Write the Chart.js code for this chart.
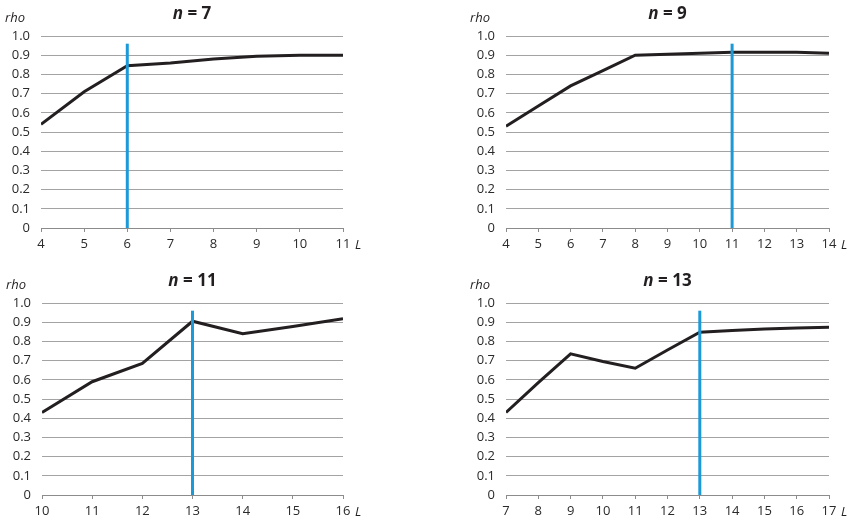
<!DOCTYPE html>
<html>
<head>
<meta charset="utf-8">
<script src="https://cdn.jsdelivr.net/npm/chart.js@4.4.0/dist/chart.umd.min.js"></script>
<style>
  body { margin: 0; background: #fff; }
  #lienzo { position: relative; width: 853px; height: 524px; }
  #lienzo canvas { position: absolute; }
</style>
</head>
<body>
<div id="lienzo">
  <canvas id="g7" style="left:0;top:0"></canvas>
  <canvas id="g9" style="left:426px;top:0"></canvas>
  <canvas id="g11" style="left:0;top:260px"></canvas>
  <canvas id="g13" style="left:426px;top:260px"></canvas>
</div>
<script>
// datos (rho segun L, para cada n)
const ejeL7 = [4, 5, 6, 7, 8, 9, 10, 11];
const rho7 = [0.54, 0.71, 0.845, 0.86, 0.88, 0.895, 0.90, 0.90];
const corte7 = 6;

const ejeL9 = [4, 5, 6, 7, 8, 9, 10, 11, 12, 13, 14];
const rho9 = [0.53, 0.635, 0.74, 0.82, 0.90, 0.905, 0.91, 0.915, 0.915, 0.915, 0.91];
const corte9 = 11;

const ejeL11 = [10, 11, 12, 13, 14, 15, 16];
const rho11 = [0.43, 0.59, 0.685, 0.905, 0.84, 0.878, 0.918];
const corte11 = 13;

const ejeL13 = [7, 8, 9, 10, 11, 12, 13, 14, 15, 16, 17];
const rho13 = [0.43, 0.585, 0.735, 0.695, 0.66, 0.755, 0.848, 0.857, 0.865, 0.87, 0.874];
const corte13 = 13;

const ticksRho = [0, 0.1, 0.2, 0.3, 0.4, 0.5, 0.6, 0.7, 0.8, 0.9, 1.0];
const topeCorte = 0.96;

const FUENTE = '"Open Sans", "Noto Sans", sans-serif';

// textos: titulo, rho y L
const textos = {
  id: 'textos',
  afterDraw(chart, args, opts) {
    const ctx = chart.ctx;
    const a = chart.chartArea;
    ctx.save();
    ctx.fillStyle = '#231f20';
    ctx.textBaseline = 'middle';

    // titulo "n = 7"
    const parte1 = 'n', parte2 = ' = ' + opts.n;
    ctx.font = 'italic bold 17px ' + FUENTE;
    const w1 = ctx.measureText(parte1).width;
    ctx.font = 'bold 17px ' + FUENTE;
    const w2 = ctx.measureText(parte2).width;
    let x = (a.left + a.right) / 2 - (w1 + w2) / 2;
    const y = a.top - 22;
    ctx.textAlign = 'left';
    ctx.font = 'italic bold 17px ' + FUENTE;
    ctx.fillText(parte1, x, y);
    ctx.font = 'bold 17px ' + FUENTE;
    ctx.fillText(parte2, x + w1, y);

    ctx.font = 'italic 13px ' + FUENTE;
    ctx.fillText('rho', a.left - 36, a.top - 18);
    ctx.fillText('L', a.right + 12, a.bottom + 17);
    ctx.restore();
  }
};

function crearGrafico(id, n, ejeL, rho, corte, pad, altoX) {
  const puntos = ejeL.map(function(l, i) { return { x: l, y: rho[i] }; });
  new Chart(document.getElementById(id), {
    type: 'line',
    data: {
      datasets: [{
        data: [{ x: corte, y: 0 }, { x: corte, y: topeCorte }],
        borderColor: '#1b9ad7',
        borderWidth: 3,
        pointRadius: 0
      }, {
        data: puntos,
        borderColor: '#231f20',
        borderWidth: 3,
        pointRadius: 0,
        tension: 0
      }]
    },
    options: {
      responsive: false,
      animation: false,
      layout: { padding: pad },
      plugins: {
        legend: { display: false },
        tooltip: { enabled: false },
        textos: { n: n }
      },
      scales: {
        x: {
          type: 'linear',
          min: ejeL[0],
          max: ejeL[ejeL.length - 1],
          afterBuildTicks: function(s) { s.ticks = ejeL.map(function(v) { return { value: v }; }); },
          afterFit: function(s) { s.height = altoX; },
          grid: { drawOnChartArea: false, drawTicks: true, tickLength: 4, color: '#8c8c8c' },
          border: { color: '#8c8c8c', width: 1 },
          ticks: { padding: 4, color: '#2a2a2a', font: { family: FUENTE, size: 13 }, maxRotation: 0, autoSkip: false }
        },
        y: {
          min: 0,
          max: 1,
          afterBuildTicks: function(s) { s.ticks = ticksRho.map(function(v) { return { value: v }; }); },
          afterFit: function(s) { s.width = 41; },
          grid: { drawTicks: false, color: '#a3a3a3' },
          border: { display: false },
          ticks: {
            padding: 11,
            color: '#2a2a2a',
            font: { family: FUENTE, size: 13 },
            callback: function(v) { return v === 0 ? '0' : v.toFixed(1); }
          }
        }
      }
    },
    plugins: [textos]
  });
}

function prepararLienzo(id, w, h) {
  const c = document.getElementById(id);
  c.width = w; c.height = h;
  c.style.width = w + 'px'; c.style.height = h + 'px';
}

prepararLienzo('g7', 426, 260);
prepararLienzo('g9', 427, 260);
prepararLienzo('g11', 426, 264);
prepararLienzo('g13', 427, 264);

crearGrafico('g7', 7, ejeL7, rho7, corte7, { left: 0, right: 83, top: 36, bottom: 0 }, 32);
crearGrafico('g9', 9, ejeL9, rho9, corte9, { left: 39, right: 24, top: 36, bottom: 0 }, 32);
crearGrafico('g11', 11, ejeL11, rho11, corte11, { left: 1, right: 83, top: 43, bottom: 0 }, 29);
crearGrafico('g13', 13, ejeL13, rho13, corte13, { left: 39, right: 24, top: 43, bottom: 0 }, 29);
</script>
</body>
</html>
